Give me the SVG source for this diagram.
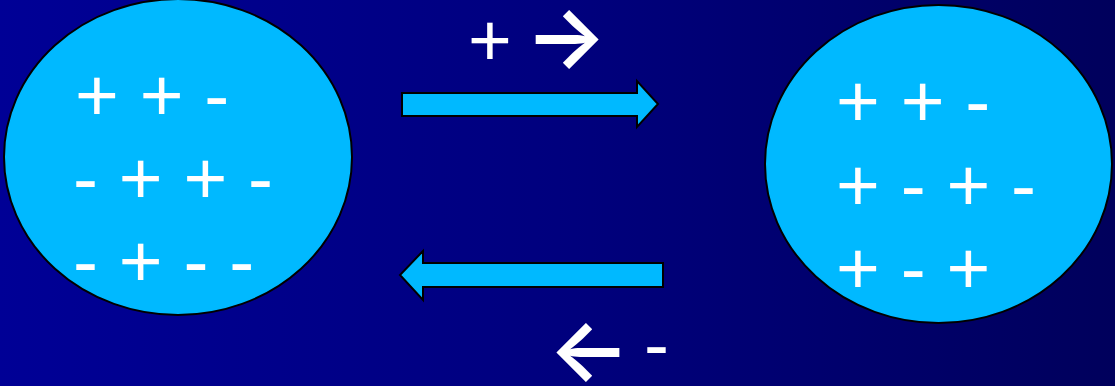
<svg xmlns="http://www.w3.org/2000/svg" width="1115" height="386" viewBox="0 0 1115 386">
  <defs>
    <linearGradient id="bg" x1="0" y1="0" x2="1" y2="0">
      <stop offset="0" stop-color="#000096"/>
      <stop offset="0.5" stop-color="#00007E"/>
      <stop offset="1" stop-color="#00005C"/>
    </linearGradient>
    <style>
      .cell { fill: #00B9FF; stroke: #000000; stroke-width: 2; }
      .flow { fill: #00B9FF; stroke: #000000; stroke-width: 2; stroke-linejoin: miter; }
      .sign { fill: #FFFFFF; font-family: "Liberation Sans", Arial, sans-serif; font-size: 75px; white-space: pre; }
      .dir { fill: #FFFFFF; font-family: Inter, sans-serif; font-weight: 600; font-size: 86px; }
    </style>
  </defs>

  <rect x="0" y="0" width="1115" height="386" fill="url(#bg)"/>

  <!-- left cell with its charges -->
  <g id="cell-left">
    <ellipse class="cell" cx="178" cy="157" rx="174" ry="158"/>
    <text class="sign" x="75" y="121">+ + -</text>
    <text class="sign" x="73" y="204">- + + -</text>
    <text class="sign" x="73" y="287">- + - -</text>
  </g>

  <!-- right cell with its charges -->
  <g id="cell-right">
    <ellipse class="cell" cx="938.5" cy="164" rx="173.5" ry="159"/>
    <text class="sign" x="836" y="127">+ + -</text>
    <text class="sign" x="836" y="211">+ - + -</text>
    <text class="sign" x="836" y="294">+ - +</text>
  </g>

  <!-- block arrows between the cells -->
  <g id="connectors">
    <polygon class="flow" points="402,93 637,93 637,81 658,104 637,127 637,116 402,116"/>
    <polygon class="flow" points="663,263 423,263 423,251 400,275 423,300 423,287 663,287"/>
  </g>

  <!-- direction labels -->
  <g id="label-top">
    <text class="sign" x="468" y="66">+</text>
    <text class="dir" x="525" y="67">→</text>
  </g>
  <g id="label-bottom">
    <text class="dir" x="548" y="380">←</text>
    <text class="sign" x="644" y="370">-</text>
  </g>
</svg>
